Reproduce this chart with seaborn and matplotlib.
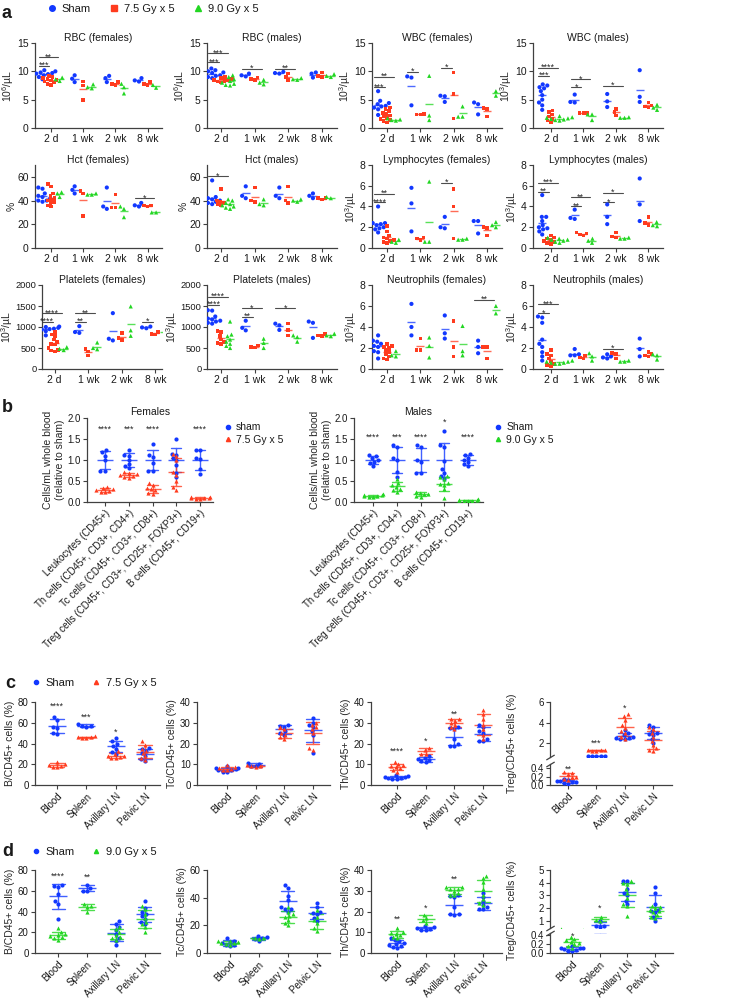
import warnings
import pandas as pd
import matplotlib
matplotlib.use('Agg')
import matplotlib.pyplot as plt
import seaborn as sns
from matplotlib.lines import Line2D

warnings.filterwarnings('ignore')

times = ['2 d', '1 wk', '2 wk', '8 wk']
groups = ['Sham', '7.5 Gy x 5', '9.0 Gy x 5']
cell_types = ['Leukocytes (CD45+)', 'Th cells (CD45+, CD3+, CD4+)', 'Tc cells (CD45+, CD3+, CD8+)',
              'Treg cells (CD45+, CD3+, CD25+, FOXP3+)', 'B cells (CD45+, CD19+)']
organs = ['Blood', 'Spleen', 'Axillary LN', 'Pelvic LN']

# ---- panel a: blood counts, one list per time point ----
rbc_f_sham = [[10.2, 10.0, 9.9, 9.8, 9.7, 9.6, 9.5, 9.3, 9.0, 8.6], [9.3, 8.7, 8.1], [9.2, 8.8, 8.1], [8.8, 8.4, 8.2]]
rbc_f_75 = [[9.2, 9.0, 8.8, 8.6, 8.5, 8.4, 8.2, 8.0, 7.8, 7.6], [8.2, 7.5, 4.9], [8.1, 7.8, 7.6], [8.1, 7.8, 7.6]]
rbc_f_90 = [[8.9, 8.6, 8.3], [7.7, 7.2, 7.0], [7.8, 7.2, 6.1], [7.6, 7.1]]
rbc_f_sig = [(0, 2, 12.5, '**'), (0, 1, 11.0, '***')]

rbc_m_sham = [[10.5, 10.2, 10.0, 9.8, 9.7, 9.5, 9.3, 9.2, 9.0, 8.8], [9.6, 9.3, 9.1], [9.9, 9.7, 9.6], [9.8, 9.6, 8.9]]
rbc_m_75 = [[9.0, 8.8, 8.6, 8.5, 8.4, 8.3, 8.2, 8.0], [8.9, 8.6, 8.5], [9.6, 9.0, 8.5], [9.8, 9.2, 9.0]]
rbc_m_90 = [[9.3, 9.0, 8.6, 8.3, 8.0, 7.8, 7.6, 7.5], [8.5, 8.0, 7.7], [8.8, 8.6, 8.5], [9.5, 9.2, 9.0]]
rbc_m_sig = [(0, 2, 13.2, '***'), (0, 1, 11.6, '***'), (1, 2, 10.4, '*'), (2, 2, 10.5, '**')]

wbc_f_sham = [[6.5, 4.8, 4.4, 4.2, 4.0, 3.9, 3.8, 3.6, 3.3, 2.3], [9.1, 8.9, 4.0], [5.7, 5.6, 4.6], [4.5, 4.2, 2.4]]
wbc_f_75 = [[3.6, 3.3, 3.0, 2.7, 2.5, 2.2, 2.0, 1.8, 1.6, 1.4, 1.2, 1.0], [2.5, 2.4, 2.4], [9.8, 6.0, 1.7], [3.5, 3.3, 2.0]]
wbc_f_90 = [[1.7, 1.5, 1.4, 1.3], [9.2, 2.2, 1.4], [3.8, 2.0, 2.0], [6.5, 5.7]]
wbc_f_sig = [(0, 2, 9.0, '**'), (0, 1, 7.2, '***'), (1, 1, 9.9, '*'), (2, 1, 10.6, '*')]

wbc_m_sham = [[7.7, 7.5, 7.2, 7.0, 6.5, 5.8, 5.0, 4.5, 4.0, 3.2], [5.9, 4.6, 4.5], [6.0, 4.7, 3.7], [10.2, 5.5, 4.6]]
wbc_m_75 = [[3.1, 2.8, 2.4, 2.0, 1.6, 1.3, 1.0], [2.7, 2.6, 2.6], [3.4, 2.8, 2.2], [4.5, 4.0, 3.8, 3.6]]
wbc_m_90 = [[2.1, 1.9, 1.8, 1.7, 1.6, 1.5, 1.4, 1.3], [2.4, 2.4, 1.4], [1.9, 1.8, 1.8], [4.1, 3.6, 3.2]]
wbc_m_sig = [(0, 2, 10.6, '****'), (0, 1, 9.2, '***'), (1, 2, 8.6, '*'), (1, 1, 7.2, '*'), (2, 2, 7.4, '*')]

hct_f_sham = [[51, 50, 46, 44, 43, 42, 41, 40, 40, 39], [52, 49, 46], [51, 35, 33], [38, 36, 35]]
hct_f_75 = [[54, 52, 46, 44, 42, 41, 40, 39, 38, 36, 35], [48, 46, 27], [45, 34, 34], [36, 36, 35]]
hct_f_90 = [[47, 46, 43], [46, 45, 45], [35, 33, 26], [30, 30]]
hct_f_sig = [(3, 2, 42, '*')]

hct_m_sham = [[57, 44, 43, 42, 41, 40, 39, 38, 37], [52, 44, 42], [51, 44, 42], [46, 44, 42]]
hct_m_75 = [[50, 40, 39, 38, 37, 36], [51, 40, 39], [52, 40, 38], [42, 42, 41]]
hct_m_90 = [[41, 40, 38, 37, 36, 35, 34, 33], [41, 37, 36], [41, 40, 39], [43, 42]]
hct_m_sig = [(0, 2, 60.5, '*')]

lym_f_sham = [[4.0, 2.5, 2.4, 2.4, 2.3, 2.2, 2.0, 1.9, 1.8, 1.5], [5.8, 4.3, 1.6], [3.0, 2.0, 1.9], [2.6, 2.6, 1.4]]
lym_f_75 = [[2.1, 1.6, 1.2, 1.0, 0.9, 0.8, 0.7, 0.6, 0.5], [1.0, 0.9, 0.8], [5.7, 4.0, 0.9], [2.0, 1.9, 1.2]]
lym_f_90 = [[0.8, 0.6, 0.5], [6.4, 0.6, 0.6], [0.9, 0.8, 0.8], [2.5, 2.2, 2.0]]
lym_f_sig = [(0, 2, 5.2, '**'), (0, 1, 4.4, '****'), (2, 1, 6.3, '*')]

lym_m_sham = [[5.1, 3.0, 3.0, 2.6, 2.2, 2.0, 1.9, 1.8, 1.6, 1.3], [3.7, 2.9, 2.8], [4.2, 3.0, 2.3], [6.7, 4.2, 2.6]]
lym_m_75 = [[1.2, 1.0, 0.9, 0.8, 0.7, 0.6, 0.5, 0.4], [1.5, 1.4, 1.3, 1.2], [1.5, 1.1, 1.0], [3.0, 2.4, 2.2]]
lym_m_90 = [[1.0, 0.9, 0.8, 0.8, 0.7, 0.6, 0.5], [0.9, 0.7, 0.5], [1.0, 0.9, 0.9], [2.5, 2.2, 2.1]]
lym_m_sig = [(0, 2, 6.3, '***'), (0, 1, 5.4, '**'), (1, 2, 4.9, '**'), (1, 1, 4.0, '**'), (2, 2, 5.3, '*'), (2, 1, 4.4, '*')]

plt_f_sham = [[1010, 1000, 990, 980, 970, 960, 950, 940, 900, 800], [1020, 880, 860], [1330, 720, 680], [1010, 990, 970]]
plt_f_75 = [[880, 820, 780, 700, 650, 600, 580, 500, 450, 440, 420], [480, 420, 320], [855, 735, 690], [880, 840, 820]]
plt_f_90 = [[520, 480, 450], [630, 500, 470], [1490, 920, 790], [1050, 730]]
plt_f_sig = [(0, 2, 1325, '****'), (0, 1, 1127, '****'), (1, 2, 1325, '**'), (1, 1, 1127, '**'), (3, 1, 1127, '*')]

plt_m_sham = [[1400, 1390, 1250, 1200, 1180, 1150, 1130, 1100, 1080], [1150, 980, 920], [1080, 1040, 930], [1130, 1100, 740]]
plt_m_75 = [[900, 880, 780, 700, 650, 620, 600], [560, 530, 510], [1080, 930, 800], [830, 800, 780]]
plt_m_90 = [[1130, 820, 780, 700, 650, 600, 550, 500], [720, 620, 500], [800, 760, 650], [840, 800, 780]]
plt_m_sig = [(0, 2, 1720, '****'), (0, 1, 1525, '****'), (1, 2, 1445, '*'), (1, 1, 1245, '**'), (2, 2, 1445, '*')]

neu_f_sham = [[3.2, 2.7, 2.6, 2.4, 2.2, 2.1, 1.7, 1.6, 1.0], [6.2, 4.0, 3.2], [5.1, 3.4, 2.9], [2.7, 2.1, 1.5]]
neu_f_75 = [[2.4, 2.2, 2.1, 2.0, 1.8, 1.6, 1.4, 1.2, 1.0, 0.9], [2.9, 1.8, 1.8], [4.6, 2.1, 1.2], [2.1, 2.1, 1.0]]
neu_f_90 = [[1.7, 1.3, 1.2], [3.0, 2.2, 1.1], [4.1, 1.7, 1.3], [6.0, 5.3]]
neu_f_sig = [(3, 2, 6.6, '**')]

neu_m_sham = [[5.0, 4.9, 4.4, 2.8, 2.4, 2.1, 1.6, 1.2, 0.8], [1.9, 1.4, 1.3, 1.3], [1.4, 1.2, 1.1, 1.0], [2.9, 1.9, 1.2]]
neu_m_75 = [[1.8, 1.4, 1.3, 1.0, 0.7, 0.5, 0.4, 0.3], [1.3, 1.1, 1.0], [1.5, 1.4, 1.0], [1.6, 1.4, 1.3, 1.2]]
neu_m_90 = [[0.8, 0.7, 0.7, 0.6, 0.6, 0.5, 0.5], [1.5, 1.2, 0.8], [0.8, 0.7, 0.7], [1.4, 1.3, 0.9]]
neu_m_sig = [(0, 2, 6.15, '***'), (0, 1, 5.3, '*'), (2, 2, 1.9, '*')]

# ---- panel b: cells relative to sham ----
fb_sham = [[1.24, 1.18, 1.10, 1.00, 0.74, 0.74], [1.24, 1.12, 1.10, 1.00, 0.90, 0.85, 0.80],
           [1.38, 1.12, 1.06, 0.94, 0.75, 0.75], [1.50, 1.15, 1.12, 1.05, 1.00, 0.88, 0.70, 0.60],
           [1.25, 1.24, 1.05, 1.02, 0.78, 0.66]]
fb_irr = [[0.36, 0.33, 0.30, 0.28, 0.26, 0.25, 0.24], [0.72, 0.70, 0.66, 0.64, 0.62, 0.60, 0.58],
          [0.45, 0.40, 0.33, 0.30, 0.28, 0.22, 0.20], [1.15, 1.10, 1.00, 0.72, 0.65, 0.50, 0.35, 0.28],
          [0.12, 0.11, 0.10, 0.10, 0.09, 0.08, 0.08]]
fb_stars = [(0, 1.74, '****'), (1, 1.74, '***'), (2, 1.74, '****'), (4, 1.74, '****')]

mb_sham = [[1.12, 1.10, 1.05, 1.00, 0.96, 0.92, 0.85], [1.35, 1.30, 1.05, 1.00, 0.72, 0.60],
           [1.35, 1.30, 1.00, 0.95, 0.70, 0.70], [1.68, 1.35, 1.30, 0.98, 0.78, 0.70, 0.62, 0.55],
           [1.15, 1.13, 1.05, 1.00, 0.95, 0.90, 0.85]]
mb_irr = [[0.18, 0.17, 0.16, 0.15, 0.14, 0.13, 0.12], [0.55, 0.45, 0.40, 0.36, 0.32, 0.28, 0.25],
          [0.25, 0.22, 0.20, 0.18, 0.15, 0.12], [0.62, 0.60, 0.55, 0.45, 0.42, 0.40, 0.30, 0.10],
          [0.06, 0.05, 0.04, 0.04, 0.03, 0.03, 0.02]]
mb_stars = [(0, 1.54, '****'), (1, 1.54, '***'), (2, 1.54, '****'), (3, 1.9, '*'), (4, 1.54, '****')]

# ---- panel c: sham vs 7.5 Gy x 5 ----
cb_sham = [[66, 63, 56, 55, 50, 49], [59, 57, 57, 56], [45, 42, 40, 38, 35, 32, 30], [36, 35, 33, 31, 28, 25, 23]]
cb_irr = [[22, 20, 19, 18, 17, 17], [47, 46, 46, 45, 45], [33, 30, 28, 28, 27, 26, 26], [42, 39, 35, 33, 31, 28, 26, 24]]
cb_stars = [(0, 76, '****'), (1, 65.6, '***'), (2, 51, '*')]
ctc_sham = [[9, 8, 8, 7.5, 7, 7, 6.5, 6.5], [10.5, 10, 9, 9], [29, 28.5, 28, 26, 25, 24], [32.5, 30, 29, 28, 26, 24, 15.5]]
ctc_irr = [[9.5, 8.5, 8, 7.5, 7, 7], [9.5, 9, 9, 8.5], [28, 27, 25, 24, 23, 22], [30, 29, 28, 27, 25, 18, 17]]
cth_sham = [[5, 4.5, 4, 3.8, 3.5, 3.5, 3, 3], [14, 13, 12.5, 12, 11.5, 11], [28, 27.5, 27, 22, 20, 19, 19], [29, 28, 26, 25, 22, 21, 21]]
cth_irr = [[11, 10, 9.5, 9, 8.5, 8, 7, 6.5], [18, 17, 15, 15], [32, 32, 31, 30, 29, 28, 27], [36, 34, 32, 29, 27, 24, 22]]
cth_stars = [(0, 16.3, '****'), (1, 21.3, '*'), (2, 34, '**')]
ctr_sham = [[0.15, 0.12, 0.10, 0.10, 0.08, 0.06, 0.05, 0.02], [0.75, 0.72, 0.72, 0.70, 0.70],
            [3.3, 3.0, 2.8, 2.6, 2.5, 2.5, 2.4, 2.4], [3.8, 3.6, 3.2, 3.0, 2.9, 2.8, 2.4, 2.0]]
ctr_irr = [[0.30, 0.28, 0.25, 0.20, 0.18, 0.15, 0.12], [1.32, 1.30, 1.28, 1.25, 1.25],
           [4.8, 4.6, 4.2, 3.8, 3.5, 3.2, 3.0, 2.6, 2.4], [3.6, 3.4, 3.0, 2.6, 2.2, 1.8, 1.5, 1.3, 1.2]]
ctr_stars = [(0, 0.38, '**'), (1, 2.0, '***'), (2, 5.36, '*')]

# ---- panel d: sham vs 9.0 Gy x 5 ----
db_sham = [[66, 65, 64, 57, 50, 47, 33], [66, 63, 60, 60], [31, 28, 25, 22, 18, 14, 12, 8], [50, 43, 40, 38, 36, 33, 30, 28]]
db_irr = [[24, 20, 18, 17, 16, 15, 14, 13], [47, 45, 44, 40], [25, 23, 20, 17, 15, 14, 13], [45, 42, 38, 34, 30, 28, 25, 20]]
db_stars = [(0, 73.6, '****'), (1, 73, '**')]
dtc_sham = [[10.5, 9, 8, 7, 6, 5.5, 5], [12, 11.5, 11, 10, 9], [49, 47, 41, 38, 33, 32, 32, 30], [36, 33, 30, 29, 28, 25, 23]]
dtc_irr = [[9, 8.5, 8, 7.5, 7, 6.5, 6], [11, 10.5, 10], [33, 30, 28, 27, 26, 24, 22, 20], [31, 26, 24, 22, 18, 16]]
dth_sham = [[7, 6.5, 6, 5, 4.5, 4, 3.5, 3, 2.5], [13, 12.5, 12, 11.5, 11, 11], [28, 27.5, 27, 22, 19, 19, 18.5], [29, 27, 25, 23, 22, 21, 21]]
dth_irr = [[12, 10, 9.5, 9, 8.5, 7.5, 7], [18.5, 17, 16, 14.5], [32, 32, 31, 31, 30, 29, 28, 28], [37, 36, 34, 31, 28, 26, 24, 23]]
dth_stars = [(0, 16.3, '**'), (1, 21.8, '*'), (2, 35.5, '**')]
dtr_sham = [[0.15, 0.12, 0.10, 0.10, 0.08, 0.06, 0.05, 0.04], [1.0, 0.62, 0.60, 0.50],
            [4.1, 4.1, 3.5, 3.2, 3.0, 2.6, 2.3], [3.65, 3.2, 2.3, 1.9, 1.8, 1.7, 1.3, 1.0]]
dtr_irr = [[0.35, 0.30, 0.28, 0.25, 0.22, 0.20, 0.15, 0.12], [1.3, 1.1, 1.0],
           [4.1, 4.0, 3.9, 3.5, 3.2, 2.8, 2.3, 2.2, 1.4], [2.2, 2.1, 2.0, 1.9, 1.8, 1.7, 1.5, 1.3, 1.2]]
dtr_stars = [(0, 0.37, '*'), (1, 1.97, '*')]

blue = '#1238ff'
red = '#ff3b1e'
green = '#22d622'
pal = dict(zip(groups, [blue, red, green]))
marks = ['o', 's', '^']
msizes = [3.0, 2.6, 3.0]

sns.set_theme(style='ticks')
plt.rcParams['font.family'] = ['Liberation Sans', 'DejaVu Sans']
plt.rcParams['mathtext.default'] = 'regular'
plt.rcParams['text.color'] = '0.1'

W, H = 741, 999
fig = plt.figure(figsize=(W / 100, H / 100), dpi=100)


def box(l, t, r, b):
    return fig.add_axes([l / W, 1 - b / H, (r - l) / W, (b - t) / H])


def to_long(series, cats, name):
    rows = [(c, name, v) for c, vals in zip(cats, series) for v in vals]
    return pd.DataFrame(rows, columns=['cat', 'group', 'val'])


def tidy(ax, fs):
    sns.despine(ax=ax)
    ax.tick_params(labelsize=fs, length=3, width=0.8, pad=1.5, color='0.25', labelcolor='0.1')
    for s in ('left', 'bottom'):
        ax.spines[s].set_color('0.25')
        ax.spines[s].set_linewidth(0.9)
    ax.set_xlabel('')
    ax.set_ylabel('')


def blood_panel(ax, sham, g75, g90, title, ylabel, ylim, yticks, sig, xlim):
    df = pd.concat([to_long(s, times, g) for s, g in zip([sham, g75, g90], groups)], ignore_index=True)
    sns.pointplot(data=df, x='cat', y='val', hue='group', order=times, hue_order=groups,
                  palette=pal, errorbar=None, dodge=0.8 * 2 / 3, marker='_', linestyle='none',
                  markersize=6, markeredgewidth=1, alpha=0.75, legend=False, ax=ax)
    for g, mk, ms in zip(groups, marks, msizes):
        sns.swarmplot(data=df[df['group'] == g], x='cat', y='val', hue='group', order=times,
                      hue_order=groups, palette=pal, dodge=True, marker=mk, size=ms,
                      legend=False, ax=ax)
    step = 0.8 / 3
    for ti, gi, yv, stars in sig:
        x0 = ti - step - 0.12
        x1 = ti + (gi - 1) * step - 0.06
        ax.plot([x0, x1], [yv, yv], color='0.3', lw=0.8)
        ax.annotate(stars, ((x0 + x1) / 2, yv), xytext=(0, -1.5), textcoords='offset points',
                    ha='center', va='baseline', fontsize=6.5, color='0.15')
    ax.set_xlim(*xlim)
    ax.set_ylim(*ylim)
    ax.set_yticks(yticks)
    tidy(ax, 7.5)
    ax.set_title(title, fontsize=7.5, pad=1)
    ax.set_ylabel(ylabel, fontsize=7.5, labelpad=0.5)


def group_panel(ax, cats, sham, irr, irr_color, mean_ms, cap, xlim):
    sets = [(sham, blue, 'o'), (irr, irr_color, '^')]
    for vals, col, mk in sets:
        sns.pointplot(data=to_long(vals, cats, 'g'), x='cat', y='val', order=cats, errorbar='sd',
                      capsize=cap, color=col, marker='_', linestyle='none', markersize=mean_ms,
                      markeredgewidth=1, alpha=0.8, err_kws={'linewidth': 1, 'alpha': 0.8}, ax=ax)
    for vals, col, mk in sets:
        sns.swarmplot(data=to_long(vals, cats, 'g'), x='cat', y='val', order=cats, color=col,
                      marker=mk, size=3.0, ax=ax)
    ax.set_xlim(*xlim)
    tidy(ax, 7)
    plt.setp(ax.get_xticklabels(), rotation=45, ha='right', va='top', rotation_mode='anchor')


def put_stars(ax, stars, fs=6.5):
    for i, y, s in stars:
        ax.text(i, y, s, ha='center', va='center', fontsize=fs, color='0.15')


# ---------------- panel a ----------------
cols = [(35, 162), (207, 337), (372, 502), (533, 663)]
rows = [(43, 128), (165, 248), (285, 369)]
xl_a = [(-0.5, 3.45), (-0.42, 3.45), (-0.45, 3.45), (-0.55, 3.45)]
u6 = r'10$^6$/µL'
u3 = r'10$^3$/µL'
specs = [
    (rbc_f_sham, rbc_f_75, rbc_f_90, 'RBC (females)', u6, (0, 15), [0, 5, 10, 15], rbc_f_sig),
    (rbc_m_sham, rbc_m_75, rbc_m_90, 'RBC (males)', u6, (0, 15), [0, 5, 10, 15], rbc_m_sig),
    (wbc_f_sham, wbc_f_75, wbc_f_90, 'WBC (females)', u3, (0, 15), [0, 5, 10, 15], wbc_f_sig),
    (wbc_m_sham, wbc_m_75, wbc_m_90, 'WBC (males)', u3, (0, 15), [0, 5, 10, 15], wbc_m_sig),
    (hct_f_sham, hct_f_75, hct_f_90, 'Hct (females)', '%', (0, 70), [0, 20, 40, 60], hct_f_sig),
    (hct_m_sham, hct_m_75, hct_m_90, 'Hct (males)', '%', (0, 70), [0, 20, 40, 60], hct_m_sig),
    (lym_f_sham, lym_f_75, lym_f_90, 'Lymphocytes (females)', u3, (0, 8), [0, 2, 4, 6, 8], lym_f_sig),
    (lym_m_sham, lym_m_75, lym_m_90, 'Lymphocytes (males)', u3, (0, 8), [0, 2, 4, 6, 8], lym_m_sig),
    (plt_f_sham, plt_f_75, plt_f_90, 'Platelets (females)', u3, (0, 2000), [0, 500, 1000, 1500, 2000], plt_f_sig),
    (plt_m_sham, plt_m_75, plt_m_90, 'Platelets (males)', u3, (0, 2000), [0, 500, 1000, 1500, 2000], plt_m_sig),
    (neu_f_sham, neu_f_75, neu_f_90, 'Neutrophils (females)', u3, (0, 8), [0, 2, 4, 6, 8], neu_f_sig),
    (neu_m_sham, neu_m_75, neu_m_90, 'Neutrophils (males)', u3, (0, 8), [0, 2, 4, 6, 8], neu_m_sig),
]
for k, sp in enumerate(specs):
    (t, b), (l, r) = rows[k // 4], cols[k % 4]
    xl = xl_a[k % 4]
    if k == 8:
        # platelets (females) axis sits further right to make room for 4-digit ticks
        l, xl = 42, (-0.38, 3.2)
    ax = box(l, t, r, b)
    blood_panel(ax, *sp, xlim=xl)
    if sp[6][-1] == 2000:
        ax.tick_params(axis='y', labelsize=6.7, pad=1)
        ax.yaxis.labelpad = 0

h_a = [Line2D([], [], marker=m, color=c, ls='none', ms=4) for m, c in zip(marks, [blue, red, green])]
fig.legend(h_a, groups, loc='center left', bbox_to_anchor=(38 / W, 1 - 9 / H), ncol=3, frameon=False,
           fontsize=8, handlelength=0.7, handletextpad=0.5, columnspacing=1.8)

# ---------------- panel b ----------------
for (l, r), sham, irr, col, title, labs, stars, xl in [
        ((87, 213), fb_sham, fb_irr, red, 'Females', ['sham', '7.5 Gy x 5'], fb_stars, (-0.75, 4.54)),
        ((354, 483), mb_sham, mb_irr, green, 'Males', ['Sham', '9.0 Gy x 5'], mb_stars, (-0.8, 4.63))]:
    ax = box(l, 418, r, 502)
    group_panel(ax, cell_types, sham, irr, col, 12, 0.42, xl)
    ax.set_ylim(0, 2.0)
    ax.set_yticks([0, 0.5, 1.0, 1.5, 2.0])
    ax.set_yticklabels(['0.0', '0.5', '1.0', '1.5', '2.0'])
    ax.set_ylabel('Cells/mL whole blood\n(relative to sham)', fontsize=7.5, labelpad=2)
    ax.set_title(title, fontsize=7.5, pad=2)
    put_stars(ax, stars)
    hb = [Line2D([], [], marker='o', color=blue, ls='none', ms=3),
          Line2D([], [], marker='^', color=col, ls='none', ms=3)]
    ax.legend(hb, labs, loc='upper left', bbox_to_anchor=(1.06, 1.0), frameon=False, fontsize=7.5,
              handlelength=0.6, handletextpad=0.5, labelspacing=0.25, borderaxespad=0)


# ---------------- panels c and d ----------------
def organ_row(top, bot, col, sets, treg, label_y):
    for (l, r), sham, irr, ylabel, ylim, yticks, stars, xl in sets:
        ax = box(l, top, r, bot)
        group_panel(ax, organs, sham, irr, col, 13, 0.45, xl)
        ax.set_ylim(*ylim)
        ax.set_yticks(yticks)
        ax.set_ylabel(ylabel, fontsize=7.5, labelpad=2)
        put_stars(ax, stars)
    (l, r), up_b, low_t, sham, irr, up_lim, up_ticks, low_max, xl, stars = treg
    up = box(l, top, r, up_b)
    low = box(l, low_t, r, bot)
    for ax in (up, low):
        group_panel(ax, organs, sham, irr, col, 13, 0.45, xl)
    up.set_ylim(*up_lim)
    up.set_yticks(up_ticks)
    low.set_ylim(0, low_max)
    low.set_yticks([0, 0.2, 0.4])
    low.set_yticklabels(['0.0', '0.2', '0.4'])
    up.spines['bottom'].set_visible(False)
    up.tick_params(axis='x', bottom=False, labelbottom=False)
    kw = dict(marker=[(-1, -0.6), (1, 0.6)], markersize=6, ls='none', color='0.25', mec='0.25',
              mew=0.9, clip_on=False)
    up.plot([0], [0], transform=up.transAxes, **kw)
    low.plot([0], [1], transform=low.transAxes, **kw)
    up.set_ylabel('Treg/CD45+ cells (%)', fontsize=7.5)
    up.yaxis.set_label_coords(-0.27, label_y)
    for i, y, s in stars:
        put_stars(low if y < 0.5 else up, [(i, y, s)])


organ_row(702, 785, red, [
    ((35, 160), cb_sham, cb_irr, 'B/CD45+ cells (%)', (0, 80), [0, 20, 40, 60, 80], cb_stars, (-0.75, 3.51)),
    ((197, 330), ctc_sham, ctc_irr, 'Tc/CD45+ cells (%)', (0, 40), [0, 10, 20, 30, 40], [], (-1.05, 3.6)),
    ((371, 502), cth_sham, cth_irr, 'Th/CD45+ cells (%)', (0, 40), [0, 10, 20, 30, 40], cth_stars, (-0.9, 3.66)),
], ((550, 672), 757.4, 763.8, ctr_sham, ctr_irr, (0.6, 6.0), [2, 4, 6], 0.5, (-0.64, 3.67), ctr_stars), 0.25)

organ_row(870, 953, green, [
    ((35, 160), db_sham, db_irr, 'B/CD45+ cells (%)', (0, 80), [0, 20, 40, 60, 80], db_stars, (-0.8, 3.52)),
    ((207, 330), dtc_sham, dtc_irr, 'Tc/CD45+ cells (%)', (0, 60), [0, 20, 40, 60], [], (-0.79, 3.45)),
    ((371, 502), dth_sham, dth_irr, 'Th/CD45+ cells (%)', (0, 40), [0, 10, 20, 30, 40], dth_stars, (-0.9, 3.66)),
], ((550, 673), 928, 932.6, dtr_sham, dtr_irr, (0.45, 5.0), [1, 2, 3, 4, 5], 0.45, (-0.8, 3.65), dtr_stars), 0.3)

for y, lab, col in [(683, '7.5 Gy x 5', red), (852, '9.0 Gy x 5', green)]:
    hc = [Line2D([], [], marker='o', color=blue, ls='none', ms=3),
          Line2D([], [], marker='^', color=col, ls='none', ms=3)]
    fig.legend(hc, ['Sham', lab], loc='center left', bbox_to_anchor=(22 / W, 1 - y / H), ncol=2,
               frameon=False, fontsize=8, handlelength=0.7, handletextpad=0.5, columnspacing=1.6)

for x, y, s in [(2, 13, 'a'), (2, 408, 'b'), (5, 683, 'c'), (2, 852, 'd')]:
    fig.text(x / W, 1 - y / H, s, fontsize=13, fontweight='bold', va='center', ha='left')

fig.savefig('out.png', dpi=100)
